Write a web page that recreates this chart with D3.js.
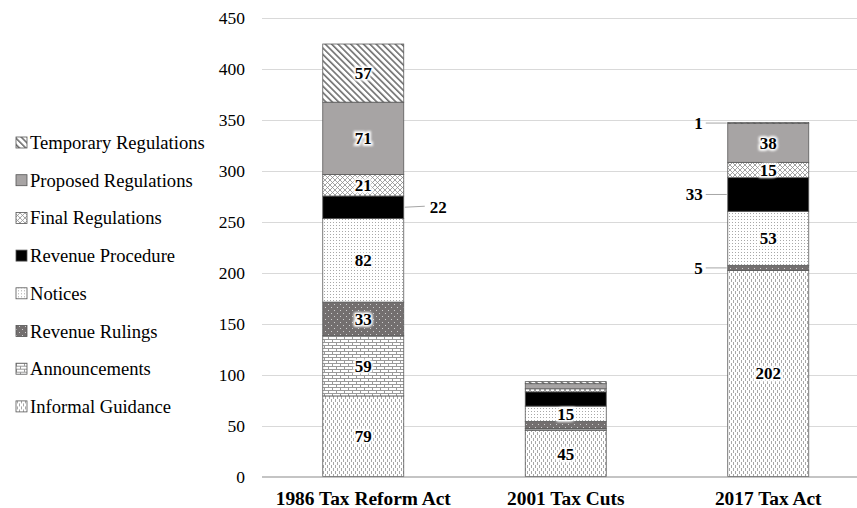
<!DOCTYPE html>
<html>
<head>
<meta charset="utf-8">
<script src="https://cdn.jsdelivr.net/npm/d3@7"></script>
<style>
  html, body { margin: 0; padding: 0; background: #fff; }
  svg { display: block; }
  text { font-family: "Times New Roman", "Liberation Serif", serif; }
</style>
</head>
<body>
<svg id="chart" width="857" height="508"></svg>
<script>
// Guidance documents issued after each tax act, stacked by document type
const categories = ["1986 Tax Reform Act", "2001 Tax Cuts", "2017 Tax Act"];

// Series listed bottom-to-top in stacking order
const seriesNames = [
  "Informal Guidance", "Announcements", "Revenue Rulings", "Notices",
  "Revenue Procedure", "Final Regulations", "Proposed Regulations", "Temporary Regulations"
];
const informalGuidance     = [79, 45, 202];
const announcements        = [59, 2, 0];
const revenueRulings       = [33, 7, 5];
const notices              = [82, 15, 53];
const revenueProcedure     = [22, 14, 33];
const finalRegulations     = [21, 3, 15];
const proposedRegulations  = [71, 5, 38];
const temporaryRegulations = [57, 2, 1];

const yTicks = [0, 50, 100, 150, 200, 250, 300, 350, 400, 450];

const seriesValues = [
  informalGuidance, announcements, revenueRulings, notices,
  revenueProcedure, finalRegulations, proposedRegulations, temporaryRegulations
];

// Which segments carry a value label: "in" = centred inside, "right"/"left" = callout
const labelModes = [
  ["in", "in", "in"],
  ["in", null, null],
  ["in", null, "left"],
  ["in", "in", "in"],
  ["right", null, "left"],
  ["in", null, "in"],
  ["in", null, "in"],
  ["in", null, "left"]
];

const svg = d3.select("#chart");
const defs = svg.append("defs");

// ---- fill patterns ----
function pat(id, w, h, bg) {
  const p = defs.append("pattern").attr("id", id)
    .attr("patternUnits", "userSpaceOnUse").attr("width", w).attr("height", h);
  p.append("rect").attr("width", w).attr("height", h).attr("fill", bg);
  return p;
}
// vertical dashes
let p = pat("pInformal", 4, 6, "#fff");
p.append("rect").attr("x", 1).attr("y", 0).attr("width", 1).attr("height", 3).attr("fill", "#a8a8a8");
p.append("rect").attr("x", 3).attr("y", 3).attr("width", 1).attr("height", 3).attr("fill", "#a8a8a8");
// brick
p = pat("pAnnounce", 8, 6, "#fff");
p.append("path").attr("d", "M0,0.5H8M0,3.5H8M0.5,0V3.5M4.5,3.5V6")
  .attr("stroke", "#9a9a9a").attr("stroke-width", 1).attr("fill", "none");
// dark with sparse light dots
p = pat("pRulings", 6, 6, "#736f6f");
p.append("rect").attr("x", 1).attr("y", 1).attr("width", 1).attr("height", 1).attr("fill", "#cfcfcf");
p.append("rect").attr("x", 4).attr("y", 4).attr("width", 1).attr("height", 1).attr("fill", "#cfcfcf");
// fine dots
p = pat("pNotices", 3, 3, "#fff");
p.append("rect").attr("x", 0).attr("y", 0).attr("width", 1).attr("height", 1).attr("fill", "#a8a8a8");
// diamond cross-hatch
p = pat("pFinal", 5, 5, "#fff");
p.append("path").attr("d", "M0,0L5,5M5,0L0,5")
  .attr("stroke", "#8c8c8c").attr("stroke-width", 0.8).attr("fill", "none");
// diagonal hatch
p = defs.append("pattern").attr("id", "pTemp")
  .attr("patternUnits", "userSpaceOnUse").attr("width", 4.5).attr("height", 4.5)
  .attr("patternTransform", "rotate(-45)");
p.append("rect").attr("width", 4.5).attr("height", 4.5).attr("fill", "#fff");
p.append("rect").attr("x", 0).attr("width", 1.6).attr("height", 4.5).attr("fill", "#6e6e6e");

const fills = [
  "url(#pInformal)", "url(#pAnnounce)", "url(#pRulings)", "url(#pNotices)",
  "#000000", "url(#pFinal)", "#a7a4a4", "url(#pTemp)"
];

// soft white halo behind labels
const glow = defs.append("filter").attr("id", "halo")
  .attr("x", "-30%").attr("y", "-30%").attr("width", "160%").attr("height", "160%");
glow.append("feGaussianBlur").attr("stdDeviation", 1.3);

// ---- scales ----
const x = d3.scaleBand().domain(categories).range([262, 869.5]).paddingInner(0.6).paddingOuter(0.3);
const y = d3.scaleLinear().domain([0, 450]).range([476.5, 17.5]);

// gridlines
svg.append("g").selectAll("line").data(yTicks.filter(t => t > 0)).join("line")
  .attr("x1", 262).attr("x2", 857)
  .attr("y1", d => Math.round(y(d)) + 0.5).attr("y2", d => Math.round(y(d)) + 0.5)
  .attr("stroke", "#d9d9d9").attr("stroke-width", 1);

// y tick labels
svg.append("g").selectAll("text").data(yTicks).join("text")
  .attr("x", 245).attr("y", d => y(d)).attr("dy", "0.35em")
  .attr("text-anchor", "end").attr("font-size", 17.5).attr("fill", "#000")
  .text(d => d);

// ---- stacked bars ----
const rows = categories.map((c, ci) => {
  const r = { cat: c };
  seriesNames.forEach((s, si) => r[s] = seriesValues[si][ci]);
  return r;
});
const stacked = d3.stack().keys(seriesNames)(rows);

const barG = svg.append("g");
stacked.forEach((layer, si) => {
  barG.append("g").selectAll("rect").data(layer).join("rect")
    .attr("x", d => x(d.data.cat))
    .attr("width", x.bandwidth())
    .attr("y", d => y(d[1]))
    .attr("height", d => Math.max(0, y(d[0]) - y(d[1])))
    .attr("fill", fills[si])
    .attr("stroke", d => d[1] - d[0] > 0 ? "#5a5a5a" : "none")
    .attr("stroke-width", 0.8);
});

// baseline
svg.append("line").attr("x1", 262).attr("x2", 857)
  .attr("y1", y(0) + 0.5).attr("y2", y(0) + 0.5)
  .attr("stroke", "#8a8a8a").attr("stroke-width", 1.2);

// ---- value labels ----
const lblG = svg.append("g");
function label(tx, ty, txt, anchor, halo) {
  if (halo) {
    lblG.append("text").attr("x", tx).attr("y", ty).attr("dy", "0.35em")
      .attr("text-anchor", anchor).attr("font-size", 17).attr("font-weight", "bold")
      .attr("fill", "#fff").attr("stroke", "#fff").attr("stroke-width", 4)
      .attr("filter", "url(#halo)").text(txt);
  }
  lblG.append("text").attr("x", tx).attr("y", ty).attr("dy", "0.35em")
    .attr("text-anchor", anchor).attr("font-size", 17).attr("font-weight", "bold")
    .attr("fill", "#000").text(txt);
}
stacked.forEach((layer, si) => {
  layer.forEach((d, ci) => {
    const mode = labelModes[si][ci];
    if (!mode) return;
    const v = d[1] - d[0];
    const cy = y((d[0] + d[1]) / 2);
    const bx = x(d.data.cat);
    if (mode === "in") {
      label(bx + x.bandwidth() / 2, cy, v, "middle", true);
    } else if (mode === "right") {
      const ex = bx + x.bandwidth();
      lblG.append("line").attr("x1", ex + 1).attr("x2", ex + 21)
        .attr("y1", cy).attr("y2", cy - 1).attr("stroke", "#a6a6a6").attr("stroke-width", 1);
      label(ex + 26, cy, v, "start", false);
    } else {
      lblG.append("line").attr("x1", bx - 1).attr("x2", bx - 22)
        .attr("y1", cy).attr("y2", cy).attr("stroke", "#a6a6a6").attr("stroke-width", 1);
      label(bx - 25, cy, v, "end", false);
    }
  });
});

// category labels
svg.append("g").selectAll("text").data(categories).join("text")
  .attr("x", d => x(d) + x.bandwidth() / 2).attr("y", 505)
  .attr("text-anchor", "middle").attr("font-size", 19.4).attr("font-weight", "bold")
  .text(d => d);

// ---- legend (top entry = top of stack) ----
const legendOrder = d3.range(seriesNames.length).reverse();
const lg = svg.append("g").selectAll("g").data(legendOrder).join("g")
  .attr("transform", (d, i) => `translate(0, ${142.5 + i * 37.7})`);
lg.append("rect").attr("x", 16).attr("y", -5.5).attr("width", 11).attr("height", 11)
  .attr("fill", d => fills[d]).attr("stroke", "#555").attr("stroke-width", 0.8);
lg.append("text").attr("x", 30).attr("y", 0).attr("dy", "0.35em")
  .attr("font-size", 18.6).attr("fill", "#000")
  .text(d => seriesNames[d]);
</script>
</body>
</html>
